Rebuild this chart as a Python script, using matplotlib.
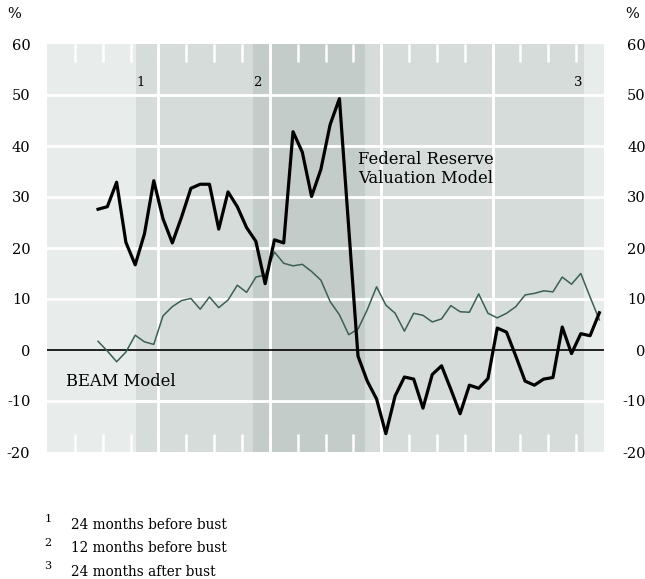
import numpy as np
import matplotlib
matplotlib.use("Agg")
import matplotlib.pyplot as plt

# monthly readings, Jun 1985 .. Dec 1989 (plotted at mid-month)
fed_model = [27.6, 28.1, 32.9, 21.1, 16.7, 22.8, 33.2, 25.7, 21.0, 26.1, 31.7, 32.5,
             32.5, 23.7, 31.0, 28.1, 24.0, 21.3, 13.0, 21.6, 21.0, 42.8, 38.8, 30.1,
             35.4, 44.2, 49.3, 24.0, -1.2, -6.1, -9.6, -16.4, -9.0, -5.3, -5.7, -11.4,
             -4.8, -3.1, -7.7, -12.5, -6.9, -7.5, -5.6, 4.3, 3.5, -1.2, -6.1, -6.9,
             -5.7, -5.4, 4.5, -0.7, 3.2, 2.8, 7.3]
beam_model = [1.7, -0.2, -2.3, -0.4, 2.9, 1.6, 1.1, 6.7, 8.5, 9.7, 10.1, 8.0,
              10.4, 8.3, 9.8, 12.7, 11.3, 14.3, 14.7, 19.2, 17.0, 16.5, 16.8, 15.4,
              13.7, 9.5, 6.9, 3.0, 4.1, 7.9, 12.4, 8.8, 7.2, 3.7, 7.2, 6.8,
              5.5, 6.1, 8.7, 7.5, 7.4, 11.0, 7.2, 6.3, 7.2, 8.5, 10.8, 11.1,
              11.6, 11.4, 14.3, 12.9, 15.0, 10.4, 5.9]
months = 1985 + (5.5 + np.arange(len(fed_model))) / 12.0

years = [1985, 1986, 1987, 1988, 1989]
yticks = [-20, -10, 0, 10, 20, 30, 40, 50, 60]

# shaded periods (start, end) in fractional years
period_24_before = (1985.795, 1989.82)
period_12_before = (1986.849, 1987.858)

footnotes = ["24 months before bust", "12 months before bust", "24 months after bust"]

plt.rcParams["font.family"] = ["DejaVu Serif"]

fig = plt.figure(figsize=(6.45, 5.79), dpi=100)
W, H = 645.0, 579.0
ax = fig.add_axes([47 / W, 1 - 452 / H, (604 - 47) / W, (452 - 44) / H])

ax.set_xlim(1985, 1990)
ax.set_ylim(-20, 60)
ax.set_facecolor("#e8ecea")
for s in ax.spines.values():
    s.set_visible(False)

ax.axvspan(*period_24_before, color="#d6dcda", lw=0, zorder=0)
ax.axvspan(*period_12_before, color="#c3ccc8", lw=0, zorder=0)

for v in [-10, 10, 20, 30, 40, 50]:
    ax.axhline(v, color="white", lw=2, zorder=1)
for y in years[1:]:
    ax.axvline(y, color="white", lw=2, zorder=1)
ax.axhline(0, color="black", lw=1.2, zorder=2)

ax.plot(months, beam_model, color="#3c5f56", lw=1.1, zorder=3)
ax.plot(months, fed_model, color="black", lw=2.3, zorder=4, solid_joinstyle="round")

# quarterly white ticks top and bottom
ax.set_xticks(np.arange(1985.25, 1990, 0.25))
ax.tick_params(axis="x", which="major", direction="in", length=13, width=1.8,
               color="white", top=True, bottom=True, labelbottom=False)
ax.set_xticks([y + 0.5 for y in years], minor=True)
ax.set_xticklabels([str(y) for y in years], minor=True)
ax.tick_params(axis="x", which="minor", length=0, pad=21, labelsize=10.5)

ax.set_yticks(yticks)
ax.set_yticklabels([str(v) for v in yticks])
ax.tick_params(axis="y", length=0, pad=12, labelsize=10.5)

ax2 = ax.twinx()
ax2.set_ylim(-20, 60)
ax2.set_yticks(yticks)
ax2.set_yticklabels([str(v) for v in yticks], ha="right")
ax2.tick_params(axis="y", length=0, pad=30, labelsize=10.5)
for s in ax2.spines.values():
    s.set_visible(False)

# band labels
ax.text(period_24_before[0] + 0.005, 52.4, "1", fontsize=9.5, ha="left", va="center", zorder=5)
ax.text(period_12_before[0] + 0.005, 52.4, "2", fontsize=9.5, ha="left", va="center", zorder=5)
ax.text(period_24_before[1] - 0.01, 52.4, "3", fontsize=9.5, ha="right", va="center", zorder=5)

ax.text(1987.79, 35.4, "Federal Reserve\nValuation Model", fontsize=11.8,
        ha="left", va="center", linespacing=1.15, zorder=5)
ax.text(1985.17, -6.2, "BEAM Model", fontsize=11.8, ha="left", va="center", zorder=5)

fig.text(14 / W, 1 - 14 / H, "%", fontsize=10.5, ha="center", va="center")
fig.text(632 / W, 1 - 14 / H, "%", fontsize=10.5, ha="center", va="center")

for i, note in enumerate(footnotes):
    yc = 525 + i * 23.5
    fig.text(48 / W, 1 - (yc - 6) / H, str(i + 1), fontsize=8, ha="center", va="center")
    fig.text(71 / W, 1 - yc / H, note, fontsize=9.8, ha="left", va="center")

fig.savefig("out.png", dpi=100)
